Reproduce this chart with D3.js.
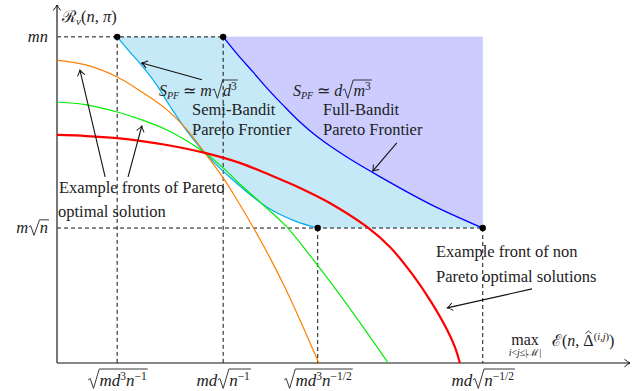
<!DOCTYPE html>
<html>
<head>
<meta charset="utf-8">
<script src="https://cdn.jsdelivr.net/npm/d3@7"></script>
<style>
  body { margin: 0; background: #fff; }
</style>
</head>
<body>
<div id="chart"></div>
<script>
(function() {
    const W = 643, H = 391;
    const FONT = "'Liberation Serif', 'Times New Roman', Times, serif";

    // curve points (abstract units)
    const orangeFront = [[0,84.6],[5.2,83.2],[10.5,79.9],[14.8,75.7],[19.2,70.7],[22.7,65.1],[25.8,58.7],[29,51.7],[31.4,45.6],[34.2,38],[37.2,29.3],[40,20.4],[42.8,10.6],[45.7,0]];
    const greenFront = [[0,72.9],[5.2,72.1],[10.5,70.1],[14.8,67.9],[19.2,65.1],[22.7,62],[25.8,58.7],[29,54.5],[31.9,50],[35.4,45],[40.1,38],[44.2,29.9],[48.5,20.9],[52.9,11.2],[57.8,0]];
    const redFront = [[0,63.7],[5.2,63.4],[10.5,62.8],[14.8,62],[19.2,60.9],[25.8,58.7],[31.9,55.9],[37.2,52.5],[42.4,48.9],[47.6,44.7],[54.1,38],[58.1,32.4],[62.1,24.6],[65.4,16.8],[68.1,9.2],[69.5,4.2],[70.3,0]];
    const semiFrontier = [[10.5,91.1],[12.7,86.9],[15,82.7],[17.5,77.4],[19.7,71.8],[22.3,65.6],[25.8,58.7],[30.7,51.1],[36.6,43.6],[41.5,39.7],[45.5,37.7]];
    const fullFrontier = [[29,91.1],[31.6,86],[34.2,81.3],[36.8,76.5],[39.4,72.1],[42.4,67.3],[45.5,63.1],[50.3,57.8],[56.4,52],[65.1,44.4],[74.3,37.7]];

    // guide levels
    const xGuides = [10.5, 29, 45.5, 74.3];
    const yGuides = [91.1, 37.7];
    const corners = [[10.5,91.1],[29,91.1],[45.5,37.7],[74.3,37.7]];

    // tick labels as math segments (i = italic, sh = shift, fs = size, rad = radical, r = under radical)
    const sup = (t, r) => ({t: t, sh: -6.5, fs: 11.5, r: r});
    const xTickLabels = [
        [{rad:1},{t:"md",i:1,r:1},sup("3",1),{t:"n",i:1,r:1},sup("−1",1)],
        [{t:"md",i:1},{rad:1},{t:"n",i:1,r:1},sup("−1",1)],
        [{rad:1},{t:"md",i:1,r:1},sup("3",1),{t:"n",i:1,r:1},sup("−1/2",1)],
        [{t:"md",i:1},{rad:1},{t:"n",i:1,r:1},sup("−1/2",1)]
    ];
    const yTickLabels = [
        [{t:"mn",i:1}],
        [{t:"m",i:1},{rad:1},{t:"n",i:1,r:1}]
    ];

    const x = d3.scaleLinear().domain([0, 100]).range([57, 630]);
    const y = d3.scaleLinear().domain([0, 100]).range([363, 5]);

    const svg = d3.select("#chart").append("svg")
        .attr("width", W).attr("height", H)
        .attr("font-family", FONT);

    svg.append("defs").append("marker")
        .attr("id", "arr")
        .attr("viewBox", "-7 -5 8 10")
        .attr("markerWidth", 8).attr("markerHeight", 10)
        .attr("markerUnits", "userSpaceOnUse")
        .attr("refX", 0).attr("refY", 0)
        .attr("orient", "auto")
        .append("path")
        .attr("d", "M-5.5,-3.8 Q-2.2,-1 0,0 Q-2.2,1 -5.5,3.8")
        .attr("fill", "none").attr("stroke", "#111").attr("stroke-width", 1);

    const line = d3.line().x(d => x(d[0])).y(d => y(d[1])).curve(d3.curveCatmullRom.alpha(0.5));

    // shaded regions
    const last = semiFrontier[semiFrontier.length - 1];
    svg.append("path")
        .attr("d", line(semiFrontier) + `L${x(74.3)},${y(last[1])}L${x(74.3)},${y(91.1)}Z`)
        .attr("fill", "#c6e9f8");
    svg.append("path")
        .attr("d", line(fullFrontier) + `L${x(74.3)},${y(91.1)}Z`)
        .attr("fill", "#ccccff");

    // dashed guides
    const dash = svg.append("g").attr("stroke", "#111").attr("stroke-width", 1).attr("stroke-dasharray", "4,3");
    dash.append("line").attr("x1", x(0)).attr("x2", x(29)).attr("y1", y(91.1)).attr("y2", y(91.1));
    dash.append("line").attr("x1", x(0)).attr("x2", x(74.3)).attr("y1", y(37.7)).attr("y2", y(37.7));
    corners.forEach(c => {
        dash.append("line").attr("x1", x(c[0])).attr("x2", x(c[0])).attr("y1", y(c[1])).attr("y2", y(0));
    });

    // axes
    svg.append("line").attr("x1", x(0)).attr("y1", y(0)).attr("x2", x(100)).attr("y2", y(0))
        .attr("stroke", "#111").attr("stroke-width", 1.2).attr("marker-end", "url(#arr)");
    svg.append("line").attr("x1", x(0)).attr("y1", y(0)).attr("x2", x(0)).attr("y2", y(100))
        .attr("stroke", "#555").attr("stroke-width", 1.6).attr("marker-end", "url(#arr)");

    // fronts
    const curves = [
        {d: semiFrontier, c: "#00aeef", w: 1.2},
        {d: orangeFront, c: "#ff8000", w: 1.2},
        {d: greenFront, c: "#00ee00", w: 1.2},
        {d: redFront, c: "#ff0000", w: 2.2},
        {d: fullFrontier, c: "#0000ff", w: 1.3}
    ];
    curves.forEach(k => {
        svg.append("path").attr("d", line(k.d)).attr("fill", "none")
            .attr("stroke", k.c).attr("stroke-width", k.w);
    });

    svg.selectAll("circle.pt").data(corners).join("circle")
        .attr("class", "pt")
        .attr("cx", d => x(d[0])).attr("cy", d => y(d[1])).attr("r", 3.2).attr("fill", "#000");

    // annotation arrows
    const arrows = [
        [[25.3,79.1],[14.8,83.8]],
        [[59.3,61.5],[55.1,53.6]],
        [[8.4,52],[4,81.8]],
        [[12.4,52],[14.8,66.2]],
        [[82.9,20.7],[68.1,15.4]]
    ];
    arrows.forEach(a => {
        svg.append("line")
            .attr("x1", x(a[0][0])).attr("y1", y(a[0][1]))
            .attr("x2", x(a[1][0])).attr("y2", y(a[1][1]))
            .attr("stroke", "#111").attr("stroke-width", 1.1)
            .attr("marker-end", "url(#arr)");
    });

    // math text helper
    function mtext(g, px, py, segs, size, anchor) {
        const t = g.append("text").attr("x", px).attr("y", py)
            .attr("font-family", FONT).attr("fill", "#222")
            .style("white-space", "pre")
            .attr("text-anchor", anchor || "start").attr("font-size", size);
        let off = 0, idx = 0;
        const info = [];
        segs.forEach(s => {
            const str = s.rad ? "\u2002\u2009" : s.t;
            const sh = s.sh || 0;
            const ts = t.append("tspan").attr("dy", sh - off).text(str);
            off = sh;
            if (s.i) ts.attr("font-style", "italic");
            if (s.fs) ts.attr("font-size", s.fs);
            info.push({s: s, start: idx, n: str.length});
            idx += str.length;
        });
        const node = t.node();
        info.forEach((d, k) => {
            if (d.s.hat) {
                const a = node.getStartPositionOfChar(d.start).x;
                const b = node.getEndPositionOfChar(d.start + d.n - 1).x;
                const m = (a + b) / 2, hy = py - 0.9 * size;
                g.append("path").attr("d", `M${m - 3},${hy + 2}L${m},${hy - 0.5}L${m + 3},${hy + 2}`)
                    .attr("fill", "none").attr("stroke", "#222").attr("stroke-width", 0.9);
            }
            if (!d.s.rad) return;
            const x0 = node.getStartPositionOfChar(d.start).x;
            const x1 = node.getEndPositionOfChar(d.start + d.n - 1).x;
            let lastSeg = null, hasSup = false;
            for (let j = k + 1; j < info.length && info[j].s.r; j++) {
                lastSeg = info[j];
                if ((info[j].s.sh || 0) < 0) hasSup = true;
            }
            const xe = node.getEndPositionOfChar(lastSeg.start + lastSeg.n - 1).x;
            const top = py - (hasSup ? 1.0 : 0.8) * size;
            const w = x1 - x0;
            const p = d3.path();
            p.moveTo(x0 + 0.05 * w, py - 0.36 * size);
            p.lineTo(x0 + 0.22 * w, py - 0.44 * size);
            p.lineTo(x0 + 0.5 * w, py + 0.14 * size);
            p.lineTo(x1 - 0.02 * w, top);
            p.lineTo(xe + 1, top);
            g.append("path").attr("d", p.toString()).attr("fill", "none")
                .attr("stroke", "#222").attr("stroke-width", 0.9).attr("stroke-linejoin", "round");
        });
        return t;
    }

    const txt = svg.append("g");

    // tick labels
    xGuides.forEach((v, i) => mtext(txt, x(v), 386, xTickLabels[i], 17, "middle"));
    yGuides.forEach((v, i) => mtext(txt, 48, y(v) + 5, yTickLabels[i], 16.5, "end"));

    // axis titles
    mtext(txt, 62, 22, [{t:"ℛ"},{t:"ν",i:1,sh:3,fs:11},{t:"("},{t:"n",i:1},{t:", "},{t:"π",i:1},{t:")"}], 16.5, "start");
    mtext(txt, 525, 345, [{t:"max"}], 16, "middle");
    mtext(txt, 525, 356, [{t:"i",i:1},{t:"<"},{t:"j",i:1},{t:"≤|"},{t:"ℳ"},{t:"|"}], 10, "middle");
    mtext(txt, 552, 346, [{t:"ℰ"},{t:"("},{t:"n",i:1},{t:", "},{t:"Δ",hat:1},{t:"(",sh:-6,fs:10.5},{t:"i",i:1,sh:-6,fs:10.5},{t:",",sh:-6,fs:10.5},{t:"j",i:1,sh:-6,fs:10.5},{t:")",sh:-6,fs:10.5},{t:")"}], 16, "start");

    // frontier annotations
    mtext(txt, 159, 96, [{t:"S",i:1},{t:"PF",i:1,sh:3,fs:10},{t:" ≃ "},{t:"m",i:1},{rad:1},{t:"d",i:1,r:1},sup("3",1)], 16, "start");
    mtext(txt, 293, 96, [{t:"S",i:1},{t:"PF",i:1,sh:3,fs:10},{t:" ≃ "},{t:"d",i:1},{rad:1},{t:"m",i:1,r:1},sup("3",1)], 16, "start");

    const words = [
        ["Semi-Bandit", 192, 115],
        ["Pareto Frontier", 192, 135],
        ["Full-Bandit", 323, 115],
        ["Pareto Frontier", 323, 135],
        ["Example fronts of Pareto", 59, 193],
        ["optimal solution", 58, 217],
        ["Example front of non", 436, 257],
        ["Pareto optimal solutions", 436, 282]
    ];
    words.forEach(w => {
        txt.append("text").attr("x", w[1]).attr("y", w[2])
            .attr("font-family", FONT).attr("fill", "#222")
            .attr("font-size", 16.5).text(w[0]);
    });
})();
</script>
</body>
</html>
